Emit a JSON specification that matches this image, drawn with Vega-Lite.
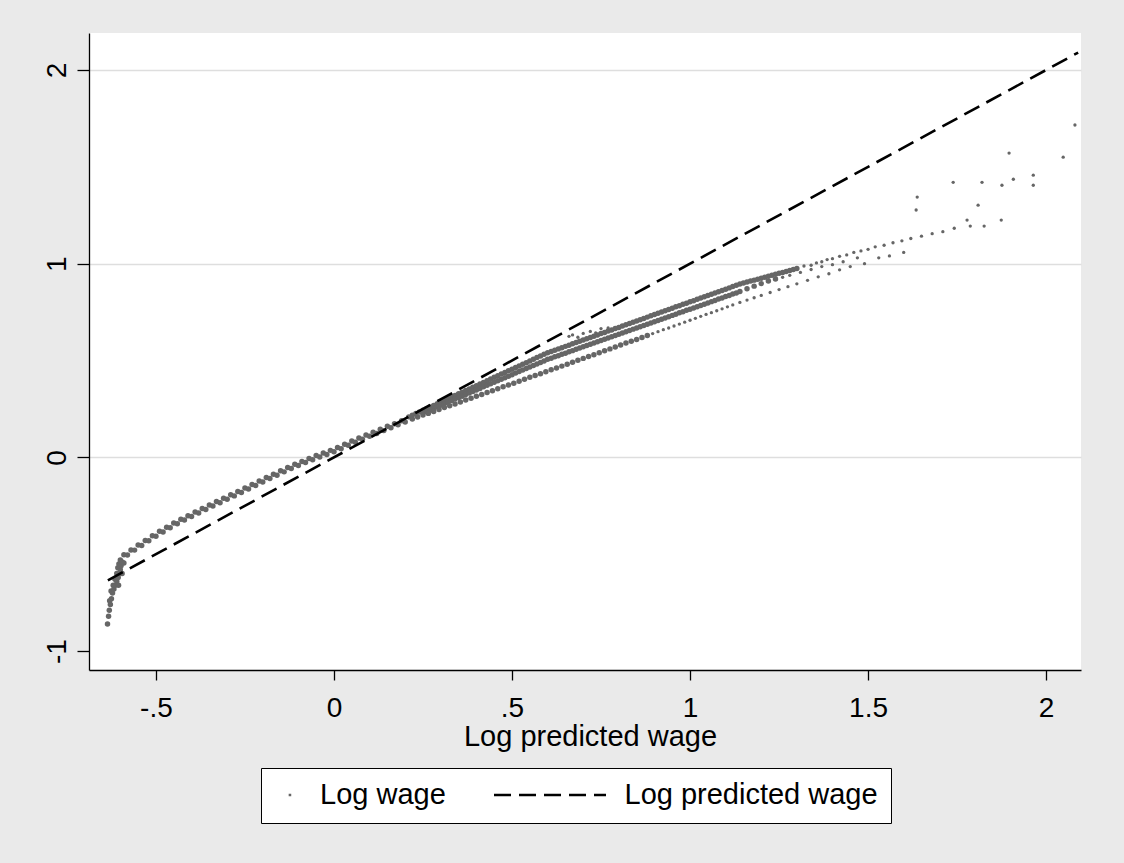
{
 "$schema": "https://vega.github.io/schema/vega-lite/v6.json",
 "width": 992,
 "height": 637,
 "autosize": "none",
 "padding": {"left": 89, "top": 33, "right": 43, "bottom": 193},
 "background": "#eaeaea",
 "config": {"view": {"fill": "white", "stroke": null}, "font": "Liberation Sans",
  "legend": {"title": null, "orient": "none", "legendX": 172, "legendY": 735, "direction": "horizontal",
   "fillColor": "#ffffff", "strokeColor": "#000000", "padding": 13,
   "labelFont": "Liberation Sans", "labelFontSize": 29, "labelColor": "#000000", "labelLimit": 500,
   "labelOffset": 17, "columnPadding": 46.5, "symbolStrokeWidth": 2.6,
   "symbolType": "stroke", "clipHeight": 28}},
 "datasets": {
  "band": [
   {"x":-0.636,"y":-0.86},{"x":-0.633,"y":-0.82},{"x":-0.631,"y":-0.79},{"x":-0.63,"y":-0.74},{"x":-0.628,"y":-0.76},{"x":-0.626,"y":-0.69},{"x":-0.625,"y":-0.73},{"x":-0.622,"y":-0.7},{"x":-0.62,"y":-0.66},{"x":-0.618,"y":-0.68},{"x":-0.615,"y":-0.63},{"x":-0.614,"y":-0.66},{"x":-0.61,"y":-0.64},{"x":-0.61,"y":-0.6},{"x":-0.607,"y":-0.57},{"x":-0.606,"y":-0.62},{"x":-0.605,"y":-0.66},{"x":-0.604,"y":-0.55},{"x":-0.602,"y":-0.6},{"x":-0.6,"y":-0.58},{"x":-0.6,"y":-0.53},{"x":-0.598,"y":-0.56},{"x":-0.595,"y":-0.54},{"x":-0.595,"y":-0.6},{"x":-0.59,"y":-0.545},
   {"x":-0.59,"y":-0.503},{"x":-0.58,"y":-0.504},{"x":-0.57,"y":-0.478},{"x":-0.56,"y":-0.479},{"x":-0.55,"y":-0.453},{"x":-0.54,"y":-0.455},{"x":-0.53,"y":-0.429},{"x":-0.52,"y":-0.431},{"x":-0.51,"y":-0.405},{"x":-0.5,"y":-0.407},
   {"x":-0.49,"y":-0.382},{"x":-0.48,"y":-0.385},{"x":-0.47,"y":-0.361},{"x":-0.46,"y":-0.364},{"x":-0.45,"y":-0.339},{"x":-0.44,"y":-0.343},{"x":-0.43,"y":-0.32},{"x":-0.42,"y":-0.324},{"x":-0.41,"y":-0.301},{"x":-0.4,"y":-0.305},
   {"x":-0.39,"y":-0.282},{"x":-0.38,"y":-0.287},{"x":-0.37,"y":-0.264},{"x":-0.36,"y":-0.269},{"x":-0.35,"y":-0.246},{"x":-0.34,"y":-0.251},{"x":-0.33,"y":-0.228},{"x":-0.32,"y":-0.234},{"x":-0.31,"y":-0.211},{"x":-0.3,"y":-0.216},
   {"x":-0.29,"y":-0.193},{"x":-0.28,"y":-0.199},{"x":-0.27,"y":-0.176},{"x":-0.26,"y":-0.181},{"x":-0.25,"y":-0.158},{"x":-0.24,"y":-0.163},{"x":-0.23,"y":-0.14},{"x":-0.22,"y":-0.145},{"x":-0.21,"y":-0.122},{"x":-0.2,"y":-0.127},
   {"x":-0.19,"y":-0.104},{"x":-0.18,"y":-0.109},{"x":-0.17,"y":-0.087},{"x":-0.16,"y":-0.092},{"x":-0.15,"y":-0.069},{"x":-0.14,"y":-0.075},{"x":-0.13,"y":-0.053},{"x":-0.12,"y":-0.058},{"x":-0.11,"y":-0.036},{"x":-0.1,"y":-0.042},
   {"x":-0.09,"y":-0.021},{"x":-0.08,"y":-0.027},{"x":-0.07,"y":-0.006},{"x":-0.06,"y":-0.012},{"x":-0.05,"y":0.009},{"x":-0.04,"y":0.002},{"x":-0.03,"y":0.023},{"x":-0.02,"y":0.015},{"x":-0.01,"y":0.036},{"x":0,"y":0.029},
   {"x":0.01,"y":0.051},{"x":0.02,"y":0.045},{"x":0.03,"y":0.068},{"x":0.04,"y":0.062},{"x":0.05,"y":0.084},{"x":0.06,"y":0.078},{"x":0.07,"y":0.1},{"x":0.08,"y":0.093},{"x":0.09,"y":0.115},{"x":0.1,"y":0.109},
   {"x":0.11,"y":0.13},{"x":0.12,"y":0.123},{"x":0.13,"y":0.145},{"x":0.14,"y":0.138},{"x":0.15,"y":0.16},{"x":0.16,"y":0.153},{"x":0.17,"y":0.174},{"x":0.18,"y":0.168},{"x":0.19,"y":0.189},{"x":0.2,"y":0.183},
   {"x":0.21,"y":0.209},{"x":0.22,"y":0.217},{"x":0.23,"y":0.226},{"x":0.24,"y":0.234},{"x":0.25,"y":0.243},{"x":0.26,"y":0.251},{"x":0.27,"y":0.26},{"x":0.28,"y":0.268},{"x":0.29,"y":0.277},{"x":0.3,"y":0.285},
   {"x":0.31,"y":0.294},{"x":0.32,"y":0.302},{"x":0.33,"y":0.311},{"x":0.34,"y":0.319},{"x":0.35,"y":0.328},{"x":0.36,"y":0.336},{"x":0.37,"y":0.345},{"x":0.38,"y":0.353},{"x":0.39,"y":0.362},{"x":0.4,"y":0.37},
   {"x":0.41,"y":0.379},{"x":0.42,"y":0.387},{"x":0.43,"y":0.396},{"x":0.44,"y":0.404},{"x":0.45,"y":0.413},{"x":0.46,"y":0.421},{"x":0.47,"y":0.43},{"x":0.48,"y":0.438},{"x":0.49,"y":0.447},{"x":0.5,"y":0.455},
   {"x":0.51,"y":0.464},{"x":0.52,"y":0.472},{"x":0.53,"y":0.481},{"x":0.54,"y":0.489},{"x":0.55,"y":0.498},{"x":0.56,"y":0.506},{"x":0.57,"y":0.515},{"x":0.58,"y":0.523},{"x":0.59,"y":0.532},{"x":0.6,"y":0.54},
   {"x":0.61,"y":0.547},{"x":0.62,"y":0.553},{"x":0.63,"y":0.56},{"x":0.64,"y":0.566},{"x":0.65,"y":0.573},{"x":0.66,"y":0.579},{"x":0.67,"y":0.586},{"x":0.68,"y":0.593},{"x":0.69,"y":0.599},{"x":0.7,"y":0.606},
   {"x":0.71,"y":0.612},{"x":0.72,"y":0.619},{"x":0.73,"y":0.625},{"x":0.74,"y":0.632},{"x":0.75,"y":0.639},{"x":0.76,"y":0.645},{"x":0.77,"y":0.652},{"x":0.78,"y":0.658},{"x":0.79,"y":0.665},{"x":0.8,"y":0.671},
   {"x":0.81,"y":0.678},{"x":0.82,"y":0.685},{"x":0.83,"y":0.691},{"x":0.84,"y":0.698},{"x":0.85,"y":0.704},{"x":0.86,"y":0.711},{"x":0.87,"y":0.717},{"x":0.88,"y":0.724},{"x":0.89,"y":0.731},{"x":0.9,"y":0.737},
   {"x":0.91,"y":0.744},{"x":0.92,"y":0.75},{"x":0.93,"y":0.757},{"x":0.94,"y":0.763},{"x":0.95,"y":0.77},{"x":0.96,"y":0.777},{"x":0.97,"y":0.783},{"x":0.98,"y":0.79},{"x":0.99,"y":0.796},{"x":1,"y":0.803},
   {"x":1.01,"y":0.809},{"x":1.02,"y":0.816},{"x":1.03,"y":0.823},{"x":1.04,"y":0.829},{"x":1.05,"y":0.836},{"x":1.06,"y":0.842},{"x":1.07,"y":0.849},{"x":1.08,"y":0.855},{"x":1.09,"y":0.862},{"x":1.1,"y":0.868},
   {"x":1.11,"y":0.875},{"x":1.12,"y":0.882},{"x":1.13,"y":0.888},{"x":1.14,"y":0.895},{"x":1.15,"y":0.9},{"x":1.16,"y":0.905},{"x":1.17,"y":0.91},{"x":1.18,"y":0.915},{"x":1.19,"y":0.92},{"x":1.2,"y":0.925},
   {"x":1.21,"y":0.93},{"x":1.22,"y":0.935},{"x":1.23,"y":0.94},{"x":1.24,"y":0.945},{"x":1.25,"y":0.95},{"x":1.26,"y":0.955},{"x":1.27,"y":0.96},{"x":1.28,"y":0.965},{"x":1.29,"y":0.97},{"x":1.3,"y":0.975},
   {"x":0.25,"y":0.23},{"x":0.26,"y":0.237},{"x":0.27,"y":0.245},{"x":0.28,"y":0.253},{"x":0.29,"y":0.261},{"x":0.3,"y":0.269},{"x":0.31,"y":0.277},{"x":0.32,"y":0.285},{"x":0.33,"y":0.293},{"x":0.34,"y":0.301},
   {"x":0.35,"y":0.309},{"x":0.36,"y":0.316},{"x":0.37,"y":0.324},{"x":0.38,"y":0.332},{"x":0.39,"y":0.34},{"x":0.4,"y":0.348},{"x":0.41,"y":0.356},{"x":0.42,"y":0.364},{"x":0.43,"y":0.372},{"x":0.44,"y":0.38},
   {"x":0.45,"y":0.388},{"x":0.46,"y":0.395},{"x":0.47,"y":0.403},{"x":0.48,"y":0.411},{"x":0.49,"y":0.419},{"x":0.5,"y":0.427},{"x":0.51,"y":0.435},{"x":0.52,"y":0.443},{"x":0.53,"y":0.451},{"x":0.54,"y":0.459},
   {"x":0.55,"y":0.467},{"x":0.56,"y":0.474},{"x":0.57,"y":0.482},{"x":0.58,"y":0.49},{"x":0.59,"y":0.498},{"x":0.6,"y":0.506},{"x":0.61,"y":0.512},{"x":0.62,"y":0.519},{"x":0.63,"y":0.525},{"x":0.64,"y":0.532},
   {"x":0.65,"y":0.538},{"x":0.66,"y":0.545},{"x":0.67,"y":0.551},{"x":0.68,"y":0.558},{"x":0.69,"y":0.564},{"x":0.7,"y":0.571},{"x":0.71,"y":0.577},{"x":0.72,"y":0.584},{"x":0.73,"y":0.59},{"x":0.74,"y":0.597},
   {"x":0.75,"y":0.603},{"x":0.76,"y":0.61},{"x":0.77,"y":0.616},{"x":0.78,"y":0.623},{"x":0.79,"y":0.629},{"x":0.8,"y":0.636},{"x":0.81,"y":0.642},{"x":0.82,"y":0.649},{"x":0.83,"y":0.655},{"x":0.84,"y":0.662},
   {"x":0.85,"y":0.668},{"x":0.86,"y":0.674},{"x":0.87,"y":0.681},{"x":0.88,"y":0.687},{"x":0.89,"y":0.694},{"x":0.9,"y":0.7},{"x":0.91,"y":0.707},{"x":0.92,"y":0.713},{"x":0.93,"y":0.72},{"x":0.94,"y":0.726},
   {"x":0.95,"y":0.733},{"x":0.96,"y":0.739},{"x":0.97,"y":0.746},{"x":0.98,"y":0.752},{"x":0.99,"y":0.759},{"x":1,"y":0.765},{"x":1.01,"y":0.771},{"x":1.02,"y":0.778},{"x":1.03,"y":0.784},{"x":1.04,"y":0.791},
   {"x":1.05,"y":0.797},{"x":1.06,"y":0.804},{"x":1.07,"y":0.81},{"x":1.08,"y":0.817},{"x":1.09,"y":0.823},{"x":1.1,"y":0.83},{"x":1.11,"y":0.836},{"x":1.12,"y":0.843},{"x":1.13,"y":0.849},{"x":1.14,"y":0.856},
   {"x":1.16,"y":0.87},{"x":1.18,"y":0.884},{"x":1.2,"y":0.897},{"x":1.22,"y":0.91},{"x":1.24,"y":0.921},
   {"x":0.22,"y":0.198},{"x":0.235,"y":0.208},{"x":0.25,"y":0.218},{"x":0.265,"y":0.227},{"x":0.28,"y":0.237},{"x":0.295,"y":0.247},{"x":0.31,"y":0.257},{"x":0.325,"y":0.266},{"x":0.34,"y":0.276},{"x":0.355,"y":0.286},
   {"x":0.37,"y":0.296},{"x":0.385,"y":0.305},{"x":0.4,"y":0.315},{"x":0.415,"y":0.325},{"x":0.43,"y":0.335},{"x":0.445,"y":0.344},{"x":0.46,"y":0.354},{"x":0.475,"y":0.364},{"x":0.49,"y":0.374},{"x":0.505,"y":0.383},
   {"x":0.52,"y":0.393},{"x":0.535,"y":0.403},{"x":0.55,"y":0.413},{"x":0.565,"y":0.422},{"x":0.58,"y":0.432},{"x":0.595,"y":0.442},{"x":0.61,"y":0.452},{"x":0.625,"y":0.461},{"x":0.64,"y":0.471},{"x":0.655,"y":0.481},
   {"x":0.67,"y":0.491},{"x":0.685,"y":0.501},{"x":0.7,"y":0.511},{"x":0.715,"y":0.521},{"x":0.73,"y":0.53},{"x":0.745,"y":0.54},{"x":0.76,"y":0.55},{"x":0.775,"y":0.56},{"x":0.79,"y":0.57},{"x":0.805,"y":0.58},
   {"x":0.82,"y":0.59},{"x":0.835,"y":0.6},{"x":0.85,"y":0.609},{"x":0.865,"y":0.619},{"x":0.88,"y":0.629}
  ],
  "sparse": [
   {"x":0.895,"y":0.639},{"x":0.91,"y":0.649},{"x":0.925,"y":0.659},{"x":0.94,"y":0.668},{"x":0.955,"y":0.678},
   {"x":0.97,"y":0.688},{"x":0.985,"y":0.698},{"x":1,"y":0.708},{"x":1.015,"y":0.718},{"x":1.03,"y":0.728},{"x":1.045,"y":0.738},{"x":1.06,"y":0.747},{"x":1.075,"y":0.757},{"x":1.09,"y":0.767},{"x":1.105,"y":0.777},
   {"x":1.12,"y":0.787},{"x":1.14,"y":0.8},
   {"x":1.16,"y":0.812},{"x":1.18,"y":0.824},{"x":1.2,"y":0.836},{"x":1.225,"y":0.851},{"x":1.25,"y":0.866},{"x":1.275,"y":0.881},{"x":1.3,"y":0.896},{"x":1.33,"y":0.914},{"x":1.36,"y":0.932},
   {"x":1.39,"y":0.948},{"x":1.42,"y":0.968},{"x":1.45,"y":0.985},{"x":1.49,"y":1.0},{"x":1.53,"y":1.03},{"x":1.56,"y":1.04},{"x":1.6,"y":1.058},
   {"x":1.32,"y":0.988},{"x":1.34,"y":0.992},{"x":1.355,"y":1.004},{"x":1.37,"y":1.01},{"x":1.385,"y":1.021},{"x":1.4,"y":1.026},{"x":1.42,"y":1.038},{"x":1.44,"y":1.045},{"x":1.46,"y":1.058},{"x":1.48,"y":1.066},
   {"x":1.5,"y":1.074},{"x":1.52,"y":1.087},{"x":1.545,"y":1.095},{"x":1.57,"y":1.108},{"x":1.595,"y":1.118},{"x":1.62,"y":1.13},{"x":1.65,"y":1.142},{"x":1.68,"y":1.155},{"x":1.71,"y":1.165},
   {"x":1.26,"y":0.93},{"x":1.28,"y":0.94},{"x":1.31,"y":0.955},{"x":1.34,"y":0.97},{"x":1.37,"y":0.985},{"x":1.4,"y":0.995},{"x":1.43,"y":1.01},{"x":1.47,"y":1.03},
   {"x":0.66,"y":0.625},{"x":0.67,"y":0.632},{"x":0.685,"y":0.62},{"x":0.7,"y":0.64},{"x":0.72,"y":0.65},{"x":0.735,"y":0.642},{"x":0.75,"y":0.665},{"x":0.77,"y":0.668},
   {"x":2.081,"y":1.716},{"x":1.896,"y":1.571},{"x":2.048,"y":1.55},{"x":1.739,"y":1.42},{"x":1.82,"y":1.42},{"x":1.876,"y":1.405},{"x":1.908,"y":1.436},{"x":1.964,"y":1.457},{"x":1.964,"y":1.405},
   {"x":1.638,"y":1.344},{"x":1.635,"y":1.277},{"x":1.809,"y":1.302},{"x":1.778,"y":1.225},{"x":1.787,"y":1.194},{"x":1.826,"y":1.194},{"x":1.874,"y":1.225},{"x":1.742,"y":1.183}
  ],
  "line": [{"x":-0.635,"y":-0.635},{"x":2.09,"y":2.09}]
 },
 "layer": [
  {
   "data": {"name": "band"},
   "mark": {"type": "point", "filled": true, "shape": "circle", "opacity": 1},
   "encoding": {
    "x": {"field": "x", "type": "quantitative",
     "scale": {"domain": [-0.688, 2.098], "nice": false, "zero": false},
     "axis": {"title": "Log predicted wage", "values": [-0.5, 0, 0.5, 1, 1.5, 2],
      "labelExpr": "replace(toString(datum.value), '0.', '.')",
      "grid": false, "labelFont": "Liberation Sans", "labelFontSize": 28, "labelColor": "#000000",
      "labelPadding": 14, "labelFlush": false, "labelOverlap": false,
      "tickSize": 10, "tickColor": "#000000", "tickWidth": 1.3,
      "domainColor": "#000000", "domainWidth": 1.3, "titleX": 501,
      "titleFont": "Liberation Sans", "titleFontSize": 29, "titleFontWeight": "normal", "titleColor": "#000000", "titlePadding": 0}},
    "y": {"field": "y", "type": "quantitative",
     "scale": {"domain": [-1.098, 2.191], "nice": false, "zero": false},
     "axis": {"title": null, "values": [-1, 0, 1, 2],
      "labelExpr": "toString(datum.value)",
      "labelAngle": -90, "labelAlign": "center", "labelBaseline": "alphabetic",
      "labelFont": "Liberation Sans", "labelFontSize": 28, "labelColor": "#000000", "labelPadding": 12,
      "labelFlush": false, "labelOverlap": false,
      "tickSize": 12, "tickColor": "#000000", "tickWidth": 1.3,
      "domainColor": "#000000", "domainWidth": 1.3,
      "grid": true, "gridWidth": 1.5,
      "gridColor": {"condition": {"test": "datum.value === -1", "value": "transparent"}, "value": "#dedede"}}},
    "color": {"datum": "Log wage",
     "scale": {"domain": ["Log wage", "Log predicted wage"], "range": ["#666666", "#000000"]}},
    "size": {"datum": "Log wage", "type": "nominal",
     "scale": {"type": "ordinal", "domain": ["Log wage", "Log predicted wage"], "range": [30, 12544]}}
   }
  },
  {
   "data": {"name": "sparse"},
   "mark": {"type": "point", "filled": true, "shape": "circle", "size": 11, "opacity": 1},
   "encoding": {
    "x": {"field": "x", "type": "quantitative"},
    "y": {"field": "y", "type": "quantitative"},
    "color": {"datum": "Log wage"}
   }
  },
  {
   "data": {"name": "line"},
   "mark": {"type": "line", "strokeWidth": 2.6},
   "encoding": {
    "x": {"field": "x", "type": "quantitative"},
    "y": {"field": "y", "type": "quantitative"},
    "color": {"datum": "Log predicted wage"},
    "strokeDash": {"datum": "Log predicted wage",
     "scale": {"domain": ["Log wage", "Log predicted wage"], "range": [[0, 2.9, 2.6, 100], [17, 8]]}}
   }
  }
 ]
}
